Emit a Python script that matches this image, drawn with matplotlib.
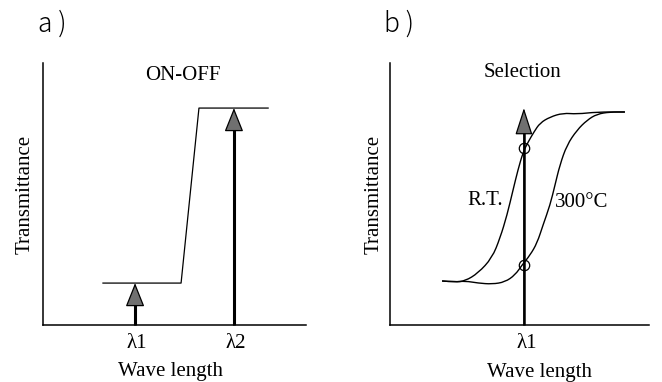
import matplotlib
matplotlib.use("Agg")
import matplotlib.pyplot as plt
from matplotlib.patches import FancyArrowPatch, PathPatch
from matplotlib.path import Path

SERIF = ["Liberation Serif", "DejaVu Serif"]

# ---- panel a: ON-OFF step response ----
step_x = [2.28, 5.25, 5.93, 8.56]          # wavelength (arb. units)
step_y = [0.160, 0.160, 0.828, 0.828]      # transmittance (arb. units)
a_lambdas = [3.50, 7.26]
a_lambda_labels = ["λ1", "λ2"]
a_arrow_tops = [0.160, 0.828]

# ---- panel b: selection curves ----
rt_x = [2.01, 2.51, 2.90, 3.40, 3.94, 4.25, 4.52, 4.75, 4.94, 5.14, 5.33,
        5.56, 5.79, 6.18, 6.68, 7.22, 7.99, 9.07]
rt_y = [0.168, 0.164, 0.168, 0.198, 0.256, 0.332, 0.420, 0.515, 0.592,
        0.660, 0.698, 0.737, 0.771, 0.794, 0.809, 0.805, 0.813, 0.813]
hot_x = [2.01, 2.51, 2.90, 3.40, 3.94, 4.44, 4.83, 5.10, 5.41, 5.68, 5.91,
         6.18, 6.37, 6.56, 6.83, 7.22, 7.61, 7.99, 8.49, 9.07]
hot_y = [0.168, 0.164, 0.168, 0.160, 0.156, 0.164, 0.191, 0.229, 0.267,
         0.313, 0.382, 0.458, 0.534, 0.611, 0.687, 0.744, 0.782, 0.805,
         0.813, 0.813]
b_lambda = 5.17
b_lambda_label = "λ1"
b_arrow_top = 0.828
b_cross_y = [0.676, 0.229]

W, H = 662, 382
fig = plt.figure(figsize=(W / 100, H / 100), dpi=100)


def make_axes(left_px, right_px, top_px=63, bottom_px=325):
    ax = fig.add_axes([left_px / W, 1 - bottom_px / H,
                       (right_px - left_px) / W, (bottom_px - top_px) / H])
    ax.set_xlim(0, 10)
    ax.set_ylim(0, 1)
    for side in ("top", "right"):
        ax.spines[side].set_visible(False)
    for side in ("left", "bottom"):
        ax.spines[side].set_linewidth(1.1)
        ax.spines[side].set_color("black")
    ax.set_xticks([])
    ax.set_yticks([])
    ax.patch.set_alpha(0)
    return ax


def smooth_curve(ax, xs, ys, lw):
    """Draw a smooth line through the sampled points (quadratic B-spline)."""
    pts = list(zip(xs, ys))
    verts = [pts[0]]
    codes = [Path.MOVETO]
    for i in range(1, len(pts) - 1):
        mid = ((pts[i][0] + pts[i + 1][0]) / 2, (pts[i][1] + pts[i + 1][1]) / 2)
        verts += [pts[i], mid]
        codes += [Path.CURVE3, Path.CURVE3]
    verts.append(pts[-1])
    codes.append(Path.LINETO)
    ax.add_patch(PathPatch(Path(verts, codes), facecolor="none",
                           edgecolor="black", lw=lw, zorder=3))


def up_arrow(ax, x, top, head_len, head_w, shaft_lw):
    ax.plot([x, x], [0, top - 0.05], color="black", lw=shaft_lw,
            solid_capstyle="butt", zorder=4, clip_on=False)
    arr = FancyArrowPatch((x, 0), (x, top),
                          arrowstyle=f"-|>,head_length={head_len},head_width={head_w}",
                          mutation_scale=1, lw=0.9,
                          facecolor="#707070", edgecolor="black",
                          shrinkA=0, shrinkB=0, zorder=5, clip_on=False)
    ax.add_patch(arr)


# panel a
axa = make_axes(43, 306)
axa.plot(step_x, step_y, color="black", lw=0.9)
for x, top, lab in zip(a_lambdas, a_arrow_tops, a_lambda_labels):
    up_arrow(axa, x, top, 15, 6, 2.2)
    axa.text(x / 10 + 0.007, -0.07, lab, transform=axa.transAxes,
             ha="center", va="center", fontsize=15, family=SERIF)
axa.text(0.483, -0.176, "Wave length", transform=axa.transAxes,
         ha="center", va="center", fontsize=15, family=SERIF)
axa.text(-0.068, 0.5, "Transmittance", transform=axa.transAxes,
         ha="center", va="center", rotation=90, fontsize=15, family=SERIF)
axa.text(0.532, 0.954, "ON-OFF", transform=axa.transAxes,
         ha="center", va="center", fontsize=15, family=SERIF)

# panel b
axb = make_axes(390, 649)
smooth_curve(axb, rt_x, rt_y, 1.0)
smooth_curve(axb, hot_x, hot_y, 1.0)
up_arrow(axb, b_lambda, b_arrow_top, 17, 5.5, 1.8)
axb.plot([b_lambda] * len(b_cross_y), b_cross_y, linestyle="none",
         marker="o", markersize=7.5, markerfacecolor="none",
         markeredgecolor="black", markeredgewidth=0.9, zorder=6)
axb.text(b_lambda / 10 + 0.012, -0.072, b_lambda_label, transform=axb.transAxes,
         ha="center", va="center", fontsize=15, family=SERIF)
axb.text(0.579, -0.18, "Wave length", transform=axb.transAxes,
         ha="center", va="center", fontsize=15, family=SERIF)
axb.text(-0.062, 0.5, "Transmittance", transform=axb.transAxes,
         ha="center", va="center", rotation=90, fontsize=15, family=SERIF)
axb.text(0.510, 0.962, "Selection", transform=axb.transAxes,
         ha="center", va="center", fontsize=15, family=SERIF)
axb.text(0.367, 0.477, "R.T.", transform=axb.transAxes,
         ha="center", va="center", fontsize=15, family=SERIF)
axb.text(0.741, 0.469, "300°C", transform=axb.transAxes,
         ha="center", va="center", fontsize=15, family=SERIF)

# panel tags
tag_font = ["Noto Sans CJK JP", "DejaVu Sans"]
fig.text(52 / W, 1 - 24 / H, "a )", ha="center", va="center", fontsize=19,
         family=tag_font, weight="light")
fig.text(399 / W, 1 - 24 / H, "b )", ha="center", va="center", fontsize=19,
         family=tag_font, weight="light")

fig.savefig("out.png", dpi=100, facecolor="white")
